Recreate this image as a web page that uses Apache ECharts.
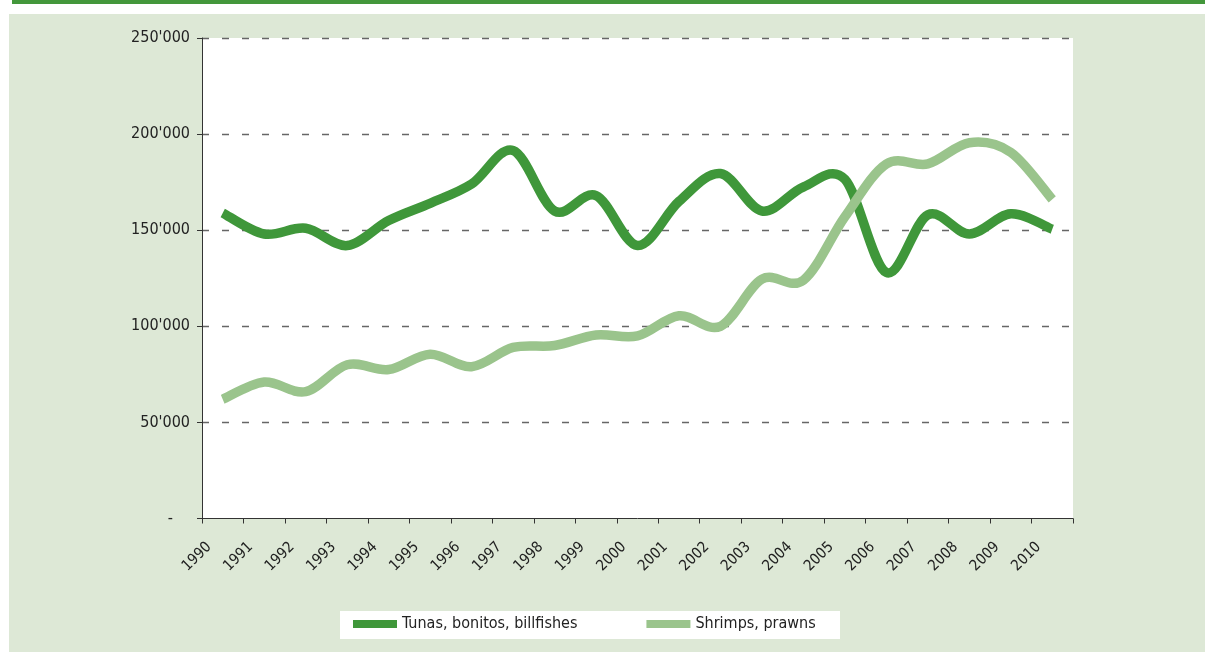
<!DOCTYPE html>
<html lang="en">
  <head>
    <meta charset="UTF-8" />
    <title>Tunas and shrimps</title>
    <script src="https://cdn.jsdelivr.net/npm/echarts/dist/echarts.min.js"></script>
    <style>
      html, body { margin: 0; padding: 0; background: #fff; }
      #chart { width: 1205px; height: 652px; }
    </style>
  </head>
  <body>
    <div id="chart"></div>
    <script>
      // data
      const years = [1990, 1991, 1992, 1993, 1994, 1995, 1996, 1997, 1998, 1999, 2000,
        2001, 2002, 2003, 2004, 2005, 2006, 2007, 2008, 2009, 2010];
      const tunas = [159000, 148000, 151000, 142000, 155000, 164000, 174000, 191500, 160000, 168000, 142000,
        165000, 179500, 160000, 172500, 176500, 128000, 158000, 148000, 158500, 150500];
      const shrimps = [62000, 71000, 66000, 80000, 77500, 85500, 79000, 89000, 90000, 95500, 95000,
        105500, 100000, 124500, 124000, 157000, 184500, 184500, 195500, 190500, 166000];
      const yTicks = [0, 50000, 100000, 150000, 200000, 250000];

      const font = "'DejaVu Sans Condensed', 'Liberation Sans', sans-serif";
      const dark = "#3f973a";
      const light = "#9ac48c";

      // Excel-like smooth line: bezier through every point (catmull-rom), no clamping
      function smoothLine(values, color) {
        return function (params, api) {
          if (params.dataIndex !== 0) return null;
          const pts = values.map((v, i) => api.coord([years[i] + 0.5, v]));
          let d = "M" + pts[0][0] + "," + pts[0][1];
          for (let i = 0; i < pts.length - 1; i++) {
            const p0 = pts[Math.max(i - 1, 0)];
            const p1 = pts[i];
            const p2 = pts[i + 1];
            const p3 = pts[Math.min(i + 2, pts.length - 1)];
            const c1x = p1[0] + (p2[0] - p0[0]) / 6;
            const c1y = p1[1] + (p2[1] - p0[1]) / 6;
            const c2x = p2[0] - (p3[0] - p1[0]) / 6;
            const c2y = p2[1] - (p3[1] - p1[1]) / 6;
            d += " C" + c1x + "," + c1y + " " + c2x + "," + c2y + " " + p2[0] + "," + p2[1];
          }
          return {
            type: "path",
            shape: { pathData: d },
            style: { fill: null, stroke: color, lineWidth: 9.5, lineJoin: "round" },
          };
        };
      }

      var chart = echarts.init(document.getElementById("chart"));
      var option = {
        backgroundColor: "#ffffff",
        animation: false,
        graphic: [
          { type: "rect", shape: { x: 12, y: 0, width: 1193, height: 4 }, style: { fill: "#43973b" }, z: -10 },
          { type: "rect", shape: { x: 9, y: 14, width: 1196, height: 638 }, style: { fill: "#dde8d6" }, z: -10 },
          { type: "rect", shape: { x: 340, y: 611, width: 500, height: 28 }, style: { fill: "#ffffff" }, z: -5 },
        ],
        grid: {
          left: 202,
          right: 132,
          top: 38,
          bottom: 133.5,
          show: true,
          backgroundColor: "#ffffff",
          borderWidth: 0,
        },
        legend: {
          left: 340,
          top: 611,
          padding: [5, 0, 5, 13],
          itemWidth: 44,
          itemHeight: 8,
          itemGap: 69,
          icon: "rect",
          textStyle: { fontFamily: font, fontSize: 16, color: "#222" },
          data: ["Tunas, bonitos, billfishes", "Shrimps, prawns"],
        },
        xAxis: {
          type: "value",
          min: years[0],
          max: years[years.length - 1] + 1,
          interval: 1,
          axisLine: { show: true, lineStyle: { color: "#333", width: 1 } },
          axisTick: { show: true, length: 5, lineStyle: { color: "#333" } },
          splitLine: { show: false },
          axisLabel: {
            rotate: 45,
            margin: 19,
            verticalAlign: "top",
            lineHeight: 20,
            fontFamily: font,
            fontSize: 15,
            color: "#222",
            formatter: function (v) {
              return years.indexOf(v) >= 0 ? String(v) : "";
            },
          },
        },
        yAxis: {
          type: "value",
          min: yTicks[0],
          max: yTicks[yTicks.length - 1],
          interval: yTicks[1] - yTicks[0],
          axisLine: { show: true, lineStyle: { color: "#333", width: 1 } },
          axisTick: { show: true, length: 5, lineStyle: { color: "#333" } },
          splitLine: {
            show: true,
            showMinLine: false,
            lineStyle: { color: "#666", type: [7, 13], width: 1.4 },
          },
          axisLabel: {
            margin: 12,
            fontFamily: font,
            fontSize: 16,
            color: "#222",
            formatter: function (v) {
              return v === 0 ? "{d|-}" : v / 1000 + "'000";
            },
            rich: { d: { fontFamily: font, fontSize: 16, color: "#222", padding: [0, 17, 0, 0] } },
          },
        },
        series: [
          {
            name: "Tunas, bonitos, billfishes",
            type: "custom",
            itemStyle: { color: dark },
            encode: { x: 0, y: 1 },
            renderItem: smoothLine(tunas, dark),
            data: years.map((y, i) => [y + 0.5, tunas[i]]),
          },
          {
            name: "Shrimps, prawns",
            type: "custom",
            itemStyle: { color: light },
            encode: { x: 0, y: 1 },
            renderItem: smoothLine(shrimps, light),
            data: years.map((y, i) => [y + 0.5, shrimps[i]]),
          },
        ],
      };
      option && chart.setOption(option);
    </script>
  </body>
</html>
